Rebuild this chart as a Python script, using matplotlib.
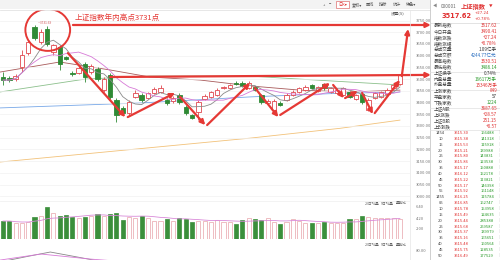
import matplotlib.pyplot as plt
import matplotlib.patches as mpatches
import pandas as pd

plt.rcParams['font.family'] = ['Noto Sans CJK SC', 'DejaVu Sans']

# daily candles, Shanghai Composite
opens = [3509, 3505, 3500, 3552, 3611, 3722, 3658, 3714, 3616, 3637, 3594, 3526, 3526, 3565, 3530, 3543,
         3453, 3518, 3411, 3377, 3355, 3424, 3432, 3420, 3441, 3445, 3411, 3407, 3432, 3381, 3347, 3360,
         3415, 3424, 3432, 3462, 3462, 3483, 3483, 3462, 3466, 3432, 3400, 3368, 3398, 3411, 3432, 3445,
         3453, 3475, 3449, 3479, 3445, 3441, 3432, 3445, 3415, 3436, 3368, 3420, 3424, 3436, 3462, 3478]
closes = [3496, 3496, 3513, 3603, 3658, 3675, 3701, 3650, 3646, 3565, 3586, 3522, 3547, 3509, 3556, 3500,
          3500, 3424, 3347, 3355, 3402, 3441, 3411, 3441, 3458, 3462, 3398, 3420, 3402, 3355, 3334, 3402,
          3428, 3445, 3453, 3466, 3475, 3479, 3470, 3483, 3453, 3402, 3408, 3406, 3389, 3432, 3445, 3462,
          3466, 3462, 3466, 3462, 3462, 3453, 3462, 3424, 3432, 3402, 3411, 3441, 3445, 3453, 3475, 3517.62]
highs = [3530, 3513, 3520, 3624, 3667, 3731, 3712, 3727, 3652, 3645, 3600, 3535, 3555, 3573, 3565, 3552,
         3509, 3526, 3420, 3385, 3410, 3455, 3440, 3447, 3466, 3475, 3418, 3428, 3440, 3390, 3352, 3410,
         3436, 3450, 3460, 3472, 3480, 3490, 3490, 3490, 3472, 3438, 3414, 3415, 3405, 3440, 3452, 3468,
         3475, 3480, 3472, 3485, 3468, 3460, 3466, 3450, 3438, 3440, 3418, 3447, 3450, 3460, 3480, 3520]
lows = [3475, 3488, 3494, 3530, 3605, 3668, 3650, 3640, 3605, 3539, 3580, 3515, 3520, 3488, 3522, 3494,
        3445, 3415, 3317, 3345, 3345, 3418, 3404, 3415, 3436, 3440, 3390, 3400, 3395, 3347, 3328, 3325,
        3410, 3418, 3428, 3458, 3458, 3475, 3466, 3458, 3449, 3395, 3396, 3360, 3384, 3405, 3428, 3440,
        3449, 3458, 3445, 3455, 3440, 3436, 3428, 3418, 3410, 3395, 3362, 3415, 3418, 3432, 3458, 3474]
volumes = [3.6, 3.6, 3.2, 3.2, 3.4, 4.4, 4.6, 6.4, 5.2, 4.6, 4.8, 4.4, 4.2, 4.4, 4.6, 5.0,
           4.6, 5.0, 5.2, 3.8, 4.4, 4.2, 4.6, 4.2, 3.6, 3.6, 4.0, 3.6, 4.2, 4.0, 3.4, 3.6,
           3.6, 3.4, 3.8, 3.4, 3.4, 3.0, 3.8, 4.2, 4.0, 3.8, 4.2, 3.4, 3.0, 3.4, 4.0, 3.6,
           3.2, 3.2, 3.2, 3.4, 3.2, 3.2, 3.2, 4.0, 4.0, 4.6, 4.4, 4.2, 4.2, 4.2, 4.2, 4.0]

# longer moving averages (at a few days)
ma20_idx = [-0.5, 9.0, 17.0, 23.3, 31.3, 39.2, 47.1, 55.1, 63.0]
ma20_val = [3530, 3573, 3539, 3509, 3496, 3471, 3453, 3445, 3453]
ma30_idx = [-0.5, 13.0, 23.3, 39.2, 47.1, 63.0]
ma30_val = [3445, 3500, 3513, 3513, 3500, 3475]
ma60_idx = [-0.5, 21.7, 39.2, 52.0, 63.0]
ma60_val = [3377, 3398, 3424, 3438, 3445]
ma120_idx = [-0.5, 39.2, 53.5, 63.0]
ma120_val = [3146, 3248, 3290, 3325]

# lower indicator
ind_idx = [-0.5, 4.0, 7.5, 12.0, 16.0]
ind_a = [0, 6, 10.5, 5, 0]
ind_b_idx = [-0.5, 6.0, 14.0, 20.0]
ind_b = [2, 8.4, 3, 0]

# annotation arrows (day index, price)
zigzag = [((10.3, 3611), (19.4, 3338)), ((19.8, 3338), (27.3, 3441)), ((28.1, 3424), (32.1, 3304)),
          ((32.4, 3304), (39.2, 3483)), ((40.0, 3462), (43.7, 3338)), ((44.0, 3347), (51.9, 3483)),
          ((52.4, 3475), (54.1, 3419)), ((54.3, 3419), (56.3, 3449)), ((57.0, 3441), (58.7, 3351)),
          ((59.0, 3355), (63.0, 3496)), ((63.3, 3513), (64.3, 3714)),
          ((11.1, 3731), (67.9, 3731)), ((17.0, 3509), (67.9, 3518))]

price_ticks = list(range(3000, 3751, 50))
vol_ticks = [2.0, 4.2, 6.4]

quote_rows = [("最新指数", "3517.62", "r"), ("今日开盘", "3490.41", "r"), ("指数涨跌", "+27.24", "r"),
              ("指数涨幅", "+0.78%", "r"), ("总成交量", "1.09亿手", "k"), ("总成交额", "4244.77亿元", "b"),
              ("最高指数", "3530.51", "r"), ("最低指数", "3486.14", "g"), ("上证换手", "0.74%", "k"),
              ("内盘总量", "16617万手", "g"), ("外盘总量", "15346万手", "r"), ("上涨家数", "849", "r"),
              ("平盘家数", "57", "k"), ("下跌家数", "1224", "g"), ("上证A股", "3687.65", "r"),
              ("上A涨跌", "+28.57", "r"), ("上证B股", "251.15", "r"), ("上B涨跌", "+0.57", "r")]
tick_times = ["1454", "10", "15", "20", "25", "30", "35", "40", "45", "50", "55", "1455",
              "05", "10", "15", "20", "25", "30", "35", "40", "45", "50"]
tick_prices = ["3515.30", "3515.38", "3515.53", "3515.21", "3515.80", "3515.86", "3515.17", "3516.12",
               "3515.22", "3515.17", "3515.92", "3516.25", "3516.85", "3515.78", "3515.49", "3515.44",
               "3515.68", "3515.37", "3515.16", "3515.48", "3515.75", "3516.49"]
tick_vols = ["166488", "141318", "115918", "139988", "143831", "123538", "150888", "152178", "113821",
             "146398", "161148", "115784", "162747", "153958", "124635", "285388", "259587", "139979",
             "165651", "160564", "128535", "177529"]

RED = '#e53935'
CRED = '#e0484f'
GREEN = '#2f8a35'
colmap = {"r": '#e03030', "g": '#2a9a2a', "b": '#2a6fc0', "k": '#333333'}

fig = plt.figure(figsize=(5, 2.6), dpi=100)
xl = (-0.48, 64.6)
n = len(closes)
xs = list(range(n))

ax = fig.add_axes([0, 1 - 200 / 260, 0.82, 190 / 260])
ax.set_xlim(*xl)
ax.set_ylim(2984, 3795)
for i in xs:
    up = closes[i] >= opens[i]
    c = CRED if up else GREEN
    ax.vlines(i, lows[i], highs[i], color=c, lw=0.6, zorder=2)
    lo, hi = min(opens[i], closes[i]), max(opens[i], closes[i])
    ax.add_patch(mpatches.Rectangle((i - 0.35, lo), 0.7, max(hi - lo, 2),
                                    fc='white' if up else GREEN, ec=c, lw=0.6, zorder=3))
s = pd.Series(closes)
ax.plot(xs, s.rolling(5, min_periods=1).mean(), color='#8a8a8a', lw=0.6, zorder=4)
ax.plot(xs, s.rolling(10, min_periods=1).mean(), color='#d77ad7', lw=0.6, zorder=4)
ax.plot(ma20_idx, ma20_val, color='#a85a5a', lw=0.6, zorder=1)
ax.plot(ma30_idx, ma30_val, color='#8cc08c', lw=0.6, zorder=1)
ax.plot(ma60_idx, ma60_val, color='#78a8e8', lw=0.6, zorder=1)
ax.plot(ma120_idx, ma120_val, color='#f2c27a', lw=0.6, zorder=1)
ax.set_yticks(price_ticks)
ax.set_yticklabels([f"{v:.2f}" for v in price_ticks])
ax.yaxis.tick_right()
ax.tick_params(axis='y', length=0, labelsize=3, labelcolor='#777777', pad=4)
ax.set_xticks([])
ax.grid(axis='y', color='#f1f1f1', lw=0.5)
for sp in ax.spines.values():
    sp.set_visible(False)

for (a, b) in zigzag:
    ax.annotate('', xy=b, xytext=a, annotation_clip=False, zorder=10,
                arrowprops=dict(arrowstyle='-|>', color=RED, lw=1.6, mutation_scale=7,
                                shrinkA=0, shrinkB=0))
ax.add_patch(mpatches.Ellipse((7.1, 3710), 7.1, 179, fill=False, ec=RED, lw=1.4, zorder=11))
ax.text(11.4, 3763, '上证指数年内高点3731点', color=RED, fontsize=5.5, va='center', zorder=11)
ax.text(5.6, 3738, '—3731.69', color='#d05050', fontsize=2.3, va='center')

axv = fig.add_axes([0, 1 - 239 / 260, 0.82, 40 / 260])
axv.set_xlim(*xl)
axv.set_ylim(0, 8.0)
fcs = ['white' if closes[i] >= opens[i] else '#3b8f3b' for i in xs]
ecs = ['#e8a3aa' if closes[i] >= opens[i] else '#3b8f3b' for i in xs]
axv.bar(xs, volumes, width=0.65, color=fcs, edgecolor=ecs, lw=0.5)
axv.plot(xs, pd.Series(volumes).rolling(10, min_periods=1).mean(), color='#d98ad9', lw=0.6)
axv.set_yticks(vol_ticks)
axv.set_yticklabels([f"{v:.2f}" for v in vol_ticks])
axv.yaxis.tick_right()
axv.tick_params(axis='y', length=0, labelsize=3, labelcolor='#777777', pad=4)
axv.set_xticks([])
for sp in axv.spines.values():
    sp.set_visible(False)

axi = fig.add_axes([0, 1 - 262 / 260, 0.82, 19 / 260])
axi.set_xlim(*xl)
axi.set_ylim(0, 20)
axi.plot(ind_idx, ind_a, color='#888888', lw=0.6)
axi.plot(ind_b_idx, ind_b, color='#d77ad7', lw=0.6)
axi.set_yticks([12])
axi.set_yticklabels(["80.00"])
axi.yaxis.tick_right()
axi.tick_params(axis='y', length=0, labelsize=3, labelcolor='#777777', pad=4)
axi.set_xticks([])
for sp in axi.spines.values():
    sp.set_visible(False)

# screen chrome and quote panel, in pixel units
ov = fig.add_axes([0, 0, 1, 1], zorder=5)
ov.set_xlim(0, 500)
ov.set_ylim(260, 0)
ov.axis('off')
ov.patch.set_alpha(0)
ov.add_patch(mpatches.Rectangle((0, 0), 430, 9, fc='#f3f3f3', ec='none'))
ov.plot([0, 430], [9.5, 9.5], color='#dddddd', lw=0.5)
ov.plot([410, 410], [10, 260], color='#e6e6e6', lw=0.5)
ov.plot([430, 430], [0, 260], color='#c8c8c8', lw=0.6)
ov.plot([0, 410], [200.5, 200.5], color='#eeeeee', lw=0.5)
for xb, lab in [(323, "+"), (329, "−"), (352, "复权▾"), (366, "画线"), (379, "指标"),
                (393, "统计"), (406, "特色▾")]:
    ov.text(xb, 4.5, lab, fontsize=3, color='#555555', va='center')
ov.add_patch(mpatches.Rectangle((336, 1), 13, 7, fc='white', ec='#e07070', lw=0.5))
ov.text(338, 4.5, "日K▾", fontsize=3, color='#e03030', va='center')
ov.text(391, 13, "设置(S)", fontsize=3, color='#555555', va='center')
for yl in (203.5, 245):
    for xb, lab in [(365, "20日均量"), (381, "5日均量"), (396, "量能比")]:
        ov.text(xb, yl, lab, fontsize=2.6, color='#666666', va='center')

ov.text(433, 6, "◀", fontsize=3, color='#888888', va='center')
ov.text(441, 6, "000001", fontsize=3.3, color='#666666', va='center')
ov.text(461, 6, "上证指数", fontsize=4.5, color='#e03030', va='center', fontweight='bold')
ov.text(489, 6, "▼", fontsize=2.6, color='#e03030', va='center')
ov.text(442, 16.5, "3517.62", fontsize=4.8, color='#e03030', va='center', fontweight='bold',
        family='DejaVu Sans')
ov.text(475, 12.6, "+27.24", fontsize=2.8, color='#e03030', va='center', family='DejaVu Sans')
ov.text(475, 19.4, "+0.78%", fontsize=2.8, color='#e03030', va='center', family='DejaVu Sans')
ov.plot([430, 500], [22.5, 22.5], color='#d8d8d8', lw=0.5)

for k, (lab, val, c) in enumerate(quote_rows):
    yy = 25.5 + k * 5.95
    ov.text(434, yy, lab, fontsize=3.3, color='#444444', va='center')
    ov.text(497, yy, val, fontsize=3.3, color=colmap[c], va='center', ha='right')
for yy in (71.5, 89.5, 107.5, 129.5):
    ov.plot([430, 500], [yy, yy], color='#e0e0e0', lw=0.5)

for k in range(len(tick_times)):
    yy = 133 + k * 5.85
    ov.text(445 if len(tick_times[k]) == 4 else 443, yy, tick_times[k], fontsize=3, color='#444444',
            va='center', ha='right')
    ov.text(469, yy, tick_prices[k], fontsize=3, color='#e03030', va='center', ha='right')
    ov.text(494, yy, tick_vols[k], fontsize=3, color='#2a9a2a', va='center', ha='right')
    ov.text(497, yy, "丨", fontsize=3, color='#777777', va='center')

fig.savefig("out.png", dpi=100)
